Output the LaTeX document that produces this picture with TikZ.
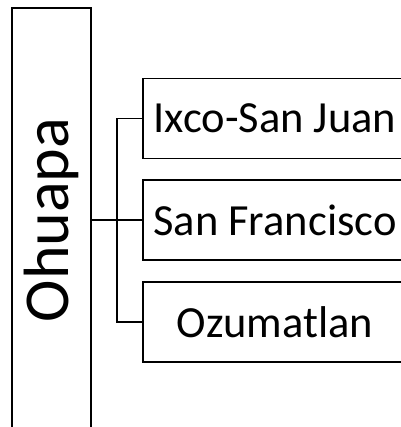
\documentclass[tikz,border=0pt]{standalone}
\usepackage{fontspec}
\setmainfont{Carlito}
\usepackage{graphicx}
\usetikzlibrary{positioning,calc}
\definecolor{ink}{HTML}{000000}
\tikzset{
  every picture/.style={line join=miter},
  rootbox/.style={draw=ink, fill=white, line width=1.8bp, inner sep=0pt,
    minimum width=79bp, minimum height=424bp, text=ink,
    font=\fontsize{64bp}{70bp}\selectfont},
  leafbox/.style={draw=ink, fill=white, line width=1.8bp, inner sep=0pt,
    minimum width=264bp, minimum height=80bp, text=ink,
    font=\fontsize{44.5bp}{50bp}\selectfont},
  conn/.style={draw=ink, line width=1.8bp},
}
\begin{document}
\begin{tikzpicture}[x=1bp, y=1bp]
  \useasboundingbox (0,0) rectangle (401,427);
  \clip (0,0) rectangle (401,427);
  % ===================== root =====================
  \node[rootbox] (ohuapa) at (51.5,207) {\rotatebox{90}{Ohuapa}};
  % ===================== children =====================
  \node[leafbox] (ixco) at (275,308.5) {Ixco-San Juan};
  \node[leafbox, below=20bp of ixco] (sanfr) {San Francisco};
  \node[leafbox, below=20bp of sanfr] (ozum) {Ozumatlan};
  % ===================== connectors =====================
  \coordinate (bus) at ($(ohuapa.east)!0.5!(sanfr.west)$);
  \draw[conn] (ohuapa.east |- sanfr.west) -- (sanfr.west);
  \draw[conn] (ixco.west) -| (bus |- ozum.west) -- (ozum.west);
\end{tikzpicture}
\end{document}
